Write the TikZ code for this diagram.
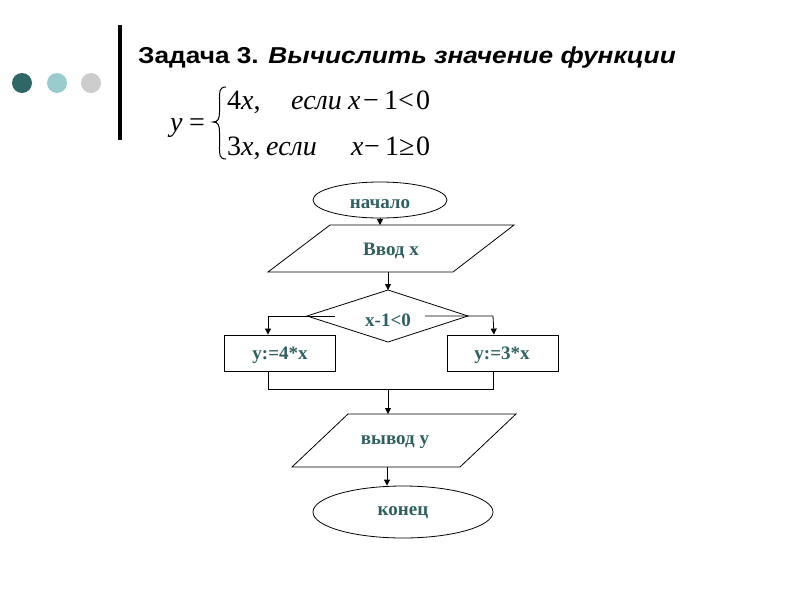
\documentclass[tikz,border=0pt]{standalone}
\usepackage{fontspec}
\setmainfont{Liberation Serif}
\newfontfamily\titlefont[FakeStretch=1.14]{Liberation Sans}
\usetikzlibrary{arrows.meta,shapes.geometric}
\definecolor{tealdark}{HTML}{2F6767}
\definecolor{teallight}{HTML}{99CCCC}
\definecolor{graydot}{HTML}{CCCCCC}
\definecolor{fctext}{HTML}{2F5F5F}
\tikzset{
  fcline/.style={draw=black, line width=0.8pt},
  fcarrow/.style={fcline, -{Triangle[length=6pt,width=6pt]}},
  fclabel/.style={font=\fontsize{19}{21}\selectfont\bfseries, text=fctext},
  fm/.style={anchor=base west, inner sep=0, font=\fontsize{28}{30}\selectfont},
}
\begin{document}
\begin{tikzpicture}[x=1pt,y=-1pt]
\useasboundingbox (0,0) rectangle (800,600);
% bullets
\fill[tealdark] (22,83) circle (10);
\fill[teallight] (57,83) circle (10);
\fill[graydot] (91,83) circle (10);
\fill[black] (118,25) rectangle (122,140);
% title
\node[anchor=base west, inner sep=0] (title) at (138,63)
  {\titlefont\fontsize{23}{26}\selectfont\bfseries Задача 3. \itshape Вычислить значение функции};
% formula
\node[fm] (fy) at (170,131) {\itshape y};
\node[fm] (feq) at (189,131) {=};
\draw[line width=1pt] (226,87) .. controls (219,87) and (219.5,92) .. (219.5,100) -- (219.5,112)
  .. controls (219.5,119) and (218,122) .. (213,122)
  .. controls (218,122) and (219.5,125) .. (219.5,132) -- (219.5,146)
  .. controls (219.5,154) and (219,159) .. (226,159);
\node[fm] (r1a) at (227,109) {4\itshape x\upshape,};
\node[fm] (r1b) at (291,109) {\itshape если};
\node[fm] (r1c) at (348,109) {\itshape x};
\node[fm] (r1d) at (363,109) {−};
\node[fm] (r1e) at (384,109) {1};
\node[fm] (r1f) at (398,109) {<};
\node[fm] (r1g) at (416,109) {0};
\node[fm] (r2a) at (227,155) {3\itshape x\upshape,};
\node[fm] (r2b) at (266,155) {\itshape если};
\node[fm] (r2c) at (351,155) {\itshape x};
\node[fm] (r2d) at (364,155) {−};
\node[fm] (r2e) at (385,155) {1};
\node[fm] (r2f) at (399,155) {≥};
\node[fm] (r2g) at (416,155) {0};
% flowchart
\node[fcline, ellipse, minimum width=134pt, minimum height=36pt, inner sep=0] (start) at (380,200) {};
\node[fclabel] (startL) at (380,204) {начало};
\path[fcline] (330,225) -- (514,225) -- (453,272) -- (268,272) -- cycle;
\node[fclabel] (input) at (391,251) {Ввод x};
\coordinate (inTop) at (380,225);
\coordinate (inBot) at (388,272);
\draw[fcarrow] (start.south) -- (inTop);
\path[fcline] (388,290) -- (468,316) -- (388,342) -- (307,316) -- cycle;
\node[fclabel] (cond) at (388,320) {x-1<0};
\coordinate (dTop) at (388,290);
\draw[fcarrow] (inBot) -- (dTop);
\node[fcline, minimum width=111pt, minimum height=36pt, inner sep=0] (left) at (279.5,353) {};
\node[fclabel] (leftL) at (280,355) {y:=4*x};
\node[fcline, minimum width=111pt, minimum height=36pt, inner sep=0] (right) at (502.5,353) {};
\node[fclabel] (rightL) at (502,355) {y:=3*x};
\coordinate (dL) at (335,316);
\coordinate (dR) at (425,316);
\draw[fcarrow] (dL) -- (268,316) -- (left.north -| 268,0);
\draw[fcarrow] (dR) -- (493,316) -- (right.north -| 494,0);
\coordinate (mergeL) at (268,389);
\coordinate (mergeR) at (493,389);
\coordinate (mergeM) at (388,389);
\draw[fcline] (left.south -| mergeL) -- (mergeL) -- (mergeR) -- (right.south -| mergeR);
\path[fcline] (348,414) -- (516,414) -- (460,467) -- (292,467) -- cycle;
\node[fclabel] (output) at (395,442) {вывод y};
\coordinate (outTop) at (388,414);
\coordinate (outBot) at (387,467);
\draw[fcarrow] (mergeM) -- (outTop);
\node[fcline, ellipse, minimum width=180pt, minimum height=52pt, inner sep=0] (end) at (403,512) {};
\node[fclabel] (endL) at (403,513) {конец};
\draw[fcarrow] (outBot) -- (end.north -| outBot);
\end{tikzpicture}
\end{document}
